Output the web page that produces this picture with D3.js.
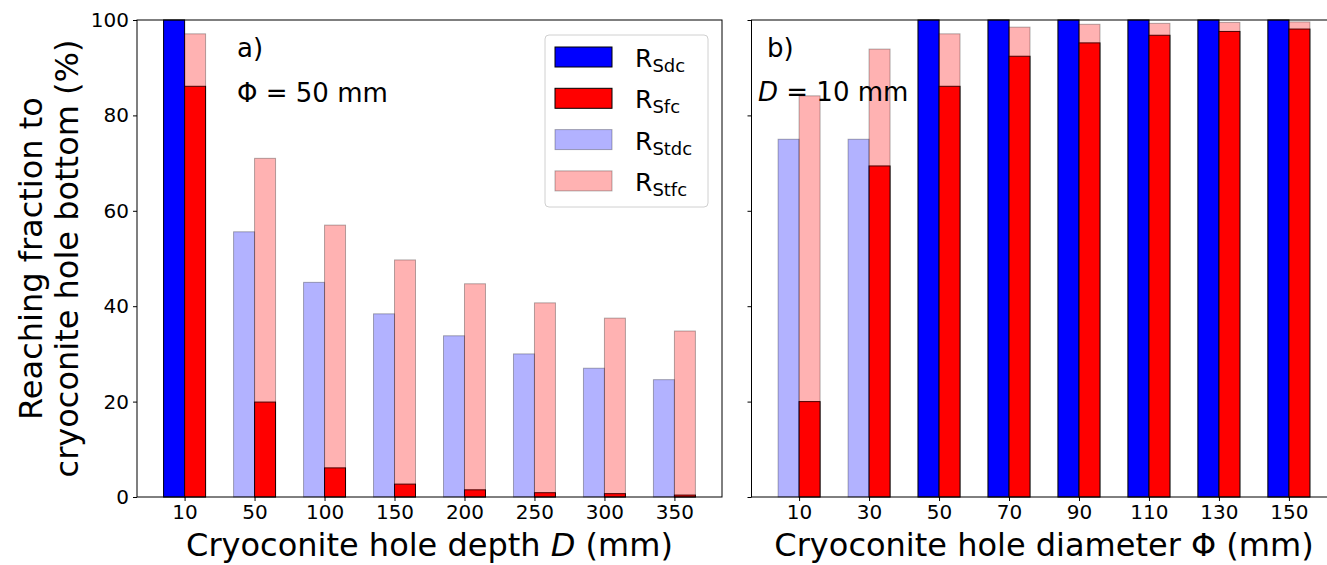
<!DOCTYPE html>
<html>
<head>
<meta charset="utf-8">
<script src="https://cdn.jsdelivr.net/npm/d3@7"></script>
<style>
  body { margin: 0; background: #fff; }
  text { font-family: "DejaVu Sans", sans-serif; }
</style>
</head>
<body>
<script>
// a) varying hole depth D, diameter fixed at 50 mm
let depths = ["10", "50", "100", "150", "200", "250", "300", "350"];
let sdcA  = [100, 0, 0, 0, 0, 0, 0, 0];
let sfcA  = [86.1, 19.9, 6.1, 2.7, 1.5, 0.9, 0.7, 0.4];
let stdcA = [100, 55.6, 45.0, 38.4, 33.8, 30.0, 27.0, 24.6];
let stfcA = [97.1, 71.0, 57.0, 49.7, 44.7, 40.7, 37.5, 34.8];

// b) varying hole diameter, depth fixed at 10 mm
let diameters = ["10", "30", "50", "70", "90", "110", "130", "150"];
let sdcB  = [0, 0, 100, 100, 100, 100, 100, 100];
let sfcB  = [20.0, 69.4, 86.1, 92.4, 95.2, 96.8, 97.6, 98.1];
let stdcB = [75.0, 75.0, 100, 100, 100, 100, 100, 100];
let stfcB = [84.1, 93.9, 97.1, 98.5, 99.1, 99.3, 99.5, 99.6];

let yTicks = [0, 20, 40, 60, 80, 100];

let W = 1327, H = 565,
    plotTop = 20, plotBottom = 497,
    panelW = 585,
    barW = 0.3;

let svg = d3.select("body").append("svg")
    .attr("width", W)
    .attr("height", H);

let y = d3.scaleLinear([0, 100], [plotBottom, plotTop]);

function drawPanel(left, cats, sdc, sfc, stdc, stfc, showYLabels) {
    let x = d3.scaleLinear([-0.68, cats.length - 1 + 0.68], [0, panelW]);
    let g = svg.append("g").attr("transform", `translate(${left},0)`);

    // solid bars first, translucent totals drawn over them
    let series = [
        {vals: sdc,  fill: "#0000ff", op: 1,   off: -barW},
        {vals: sfc,  fill: "#ff0000", op: 1,   off: 0},
        {vals: stdc, fill: "#0000ff", op: 0.3, off: -barW},
        {vals: stfc, fill: "#ff0000", op: 0.3, off: 0}
    ];
    series.forEach(s => {
        let pts = s.vals.map((v, i) => ({v: v, i: i})).filter(d => d.v > 0);
        g.append("g").selectAll("rect")
            .data(pts)
            .enter().append("rect")
            .attr("x", d => x(d.i + s.off))
            .attr("width", x(barW) - x(0))
            .attr("y", d => y(d.v))
            .attr("height", d => y(0) - y(d.v))
            .attr("fill", s.fill)
            .attr("fill-opacity", s.op)
            .attr("stroke", "#000")
            .attr("stroke-opacity", s.op)
            .attr("stroke-width", 1);
    });

    // frame
    g.append("rect")
        .attr("x", 0).attr("y", plotTop)
        .attr("width", panelW).attr("height", plotBottom - plotTop)
        .attr("fill", "none")
        .attr("stroke", "#000")
        .attr("stroke-width", 1);

    let xAxis = d3.axisBottom(x)
        .tickValues(d3.range(cats.length))
        .tickFormat(i => cats[i])
        .tickSize(4).tickPadding(4);
    let gx = g.append("g").attr("transform", `translate(0,${plotBottom})`).call(xAxis);
    gx.select(".domain").remove();
    gx.selectAll("text").attr("font-size", 20).attr("fill", "#000").attr("font-family", "DejaVu Sans");

    let yAxis = d3.axisLeft(y)
        .tickValues(yTicks)
        .tickSize(4).tickPadding(4)
        .tickFormat(showYLabels ? d3.format("d") : () => "");
    let gy = g.append("g").call(yAxis);
    gy.select(".domain").remove();
    gy.selectAll("text").attr("font-size", 20).attr("fill", "#000").attr("font-family", "DejaVu Sans");
    return g;
}

let leftA = 137, leftB = 751.5;
drawPanel(leftA, depths, sdcA, sfcA, stdcA, stfcA, true);
drawPanel(leftB, diameters, sdcB, sfcB, stdcB, stfcB, false);

// axis labels
svg.append("text")
    .attr("x", leftA + panelW / 2).attr("y", 556)
    .attr("text-anchor", "middle").attr("font-size", 32)
    .html('Cryoconite hole depth <tspan font-style="italic">D</tspan> (mm)');
svg.append("text")
    .attr("x", leftB + panelW / 2).attr("y", 556)
    .attr("text-anchor", "middle").attr("font-size", 32)
    .text("Cryoconite hole diameter \u03A6 (mm)");

let yl = svg.append("text")
    .attr("transform", `translate(0,${(plotTop + plotBottom) / 2}) rotate(-90)`)
    .attr("text-anchor", "middle").attr("font-size", 32);
yl.append("tspan").attr("x", 0).attr("y", 42).text("Reaching fraction to");
yl.append("tspan").attr("x", 0).attr("y", 78).text("cryoconite hole bottom (%)");

// panel annotations
svg.append("text").attr("x", 237).attr("y", 57).attr("font-size", 26).text("a)");
svg.append("text").attr("x", 237).attr("y", 102).attr("font-size", 26).text("\u03A6 = 50 mm");
svg.append("text").attr("x", 767).attr("y", 57).attr("font-size", 26).text("b)");
svg.append("text").attr("x", 758).attr("y", 101).attr("font-size", 26)
    .html('<tspan font-style="italic">D</tspan> = 10 mm');

// legend
let legendItems = [
    {sub: "Sdc",  fill: "#0000ff", op: 1},
    {sub: "Sfc",  fill: "#ff0000", op: 1},
    {sub: "Stdc", fill: "#0000ff", op: 0.3},
    {sub: "Stfc", fill: "#ff0000", op: 0.3}
];
let lg = svg.append("g").attr("transform", "translate(545,35)");
lg.append("rect")
    .attr("width", 163).attr("height", 172)
    .attr("rx", 4)
    .attr("fill", "#fff").attr("fill-opacity", 0.8)
    .attr("stroke", "#d0d0d0");
let rows = lg.selectAll(".item").data(legendItems).enter().append("g")
    .attr("class", "item")
    .attr("transform", (d, i) => `translate(0,${12 + i * 41.3})`);
rows.append("rect")
    .attr("x", 10).attr("width", 57).attr("height", 20)
    .attr("fill", d => d.fill).attr("fill-opacity", d => d.op)
    .attr("stroke", "#000").attr("stroke-opacity", d => d.op);
let lt = rows.append("text").attr("x", 90).attr("y", 20).attr("font-size", 25);
lt.append("tspan").text("R");
lt.append("tspan").attr("font-size", 18).attr("dy", 5).text(d => d.sub);
</script>
</body>
</html>
